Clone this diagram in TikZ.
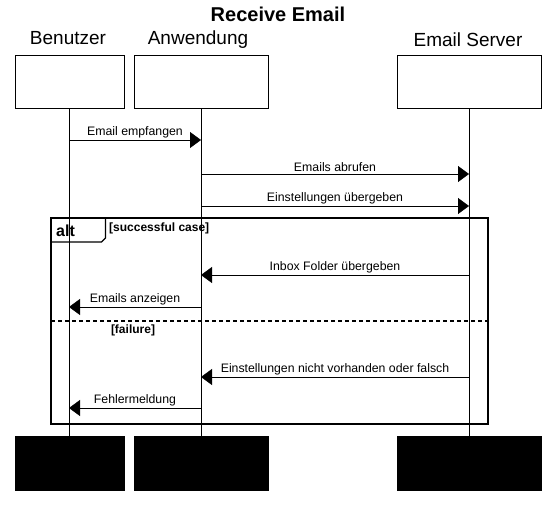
\documentclass[tikz,border=0pt]{standalone}
\usepackage{fontspec}
\setmainfont{Liberation Sans}
\usetikzlibrary{arrows.meta}
\tikzset{
  actor/.style={draw, minimum height=53pt, inner sep=0pt},
  actorend/.style={draw, fill=black, minimum height=54pt, inner sep=0pt},
  actorname/.style={font=\fontsize{19}{19}\selectfont, inner sep=0pt},
  msg/.style={-{Triangle[length=11pt,width=16pt]}},
  lbl/.style={above=2pt, font=\fontsize{12.3}{12.3}\selectfont, inner sep=0pt},
  frame/.style={line width=1.8pt},
  guard/.style={font=\bfseries\fontsize{12}{12}\selectfont, inner sep=0pt},
}
\begin{document}
\begin{tikzpicture}[x=1pt,y=-1pt]
      \useasboundingbox (0,0) rectangle (556,513);
      \node[font=\bfseries\fontsize{20}{20}\selectfont, inner sep=0pt] (title) at (278,14) {Receive Email};
      \draw
        (69.5,81.5) node[actor, minimum width=109pt] (ben){}
        (201,81.5) node[actor, minimum width=134pt] (anw){}
        (469,81.5) node[actor, minimum width=144pt] (srv){}
        (69.5,463) node[actorend, minimum width=109pt] (benend){}
        (201,463) node[actorend, minimum width=134pt] (anwend){}
        (469,463) node[actorend, minimum width=144pt] (srvend){};
      \node[actorname] (benname) at (68,38) {Benutzer};
      \node[actorname] (anwname) at (198,40) {Anwendung};
      \node[actorname] (srvname) at (468,40) {Email Server};
      % lifelines
      \draw (ben.south) -- (benend.north);
      \draw (anw.south) -- (anwend.north);
      \draw (srv.south) -- (srvend.north);
      % message ends
      \path
        (69,140) coordinate (b1) (201,140) coordinate (a1)
        (201,174) coordinate (a2) (469,174) coordinate (s2)
        (201,206) coordinate (a3) (469,206) coordinate (s3)
        (201,275) coordinate (a4) (469,275) coordinate (s4)
        (69,307) coordinate (b5) (201,307) coordinate (a5)
        (201,377) coordinate (a6) (469,377) coordinate (s6)
        (69,408) coordinate (b7) (201,408) coordinate (a7);
      \begin{scope}[msg]
        \draw (b1) -- node[lbl]{Email empfangen} (a1);
        \draw (a2) -- node[lbl]{Emails abrufen} (s2);
        \draw (a3) -- node[lbl]{Einstellungen übergeben} (s3);
        \draw (s4) -- node[lbl]{Inbox Folder übergeben} (a4);
        \draw (a5) -- node[lbl]{Emails anzeigen} (b5);
        \draw (s6) -- node[lbl]{Einstellungen nicht vorhanden oder falsch} (a6);
        \draw (a7) -- node[lbl]{Fehlermeldung} (b7);
      \end{scope}
      % alt frame
      \draw[frame] (51,218) rectangle (488,424);
      \draw[line width=1.2pt] (51,242) -- (101.5,242) -- (105.5,238) -- (105.5,218);
      \node[font=\bfseries\fontsize{16}{16}\selectfont, inner sep=0pt, anchor=west] (alt) at (56,231) {alt};
      \node[guard, anchor=west] (succ) at (109,228) {[successful case]};
      \draw[line width=1.2pt, dash pattern=on 4pt off 3pt] (51,321) -- (488,321);
      \node[guard] (fail) at (133,330) {[failure]};
    \end{tikzpicture}
\end{document}
